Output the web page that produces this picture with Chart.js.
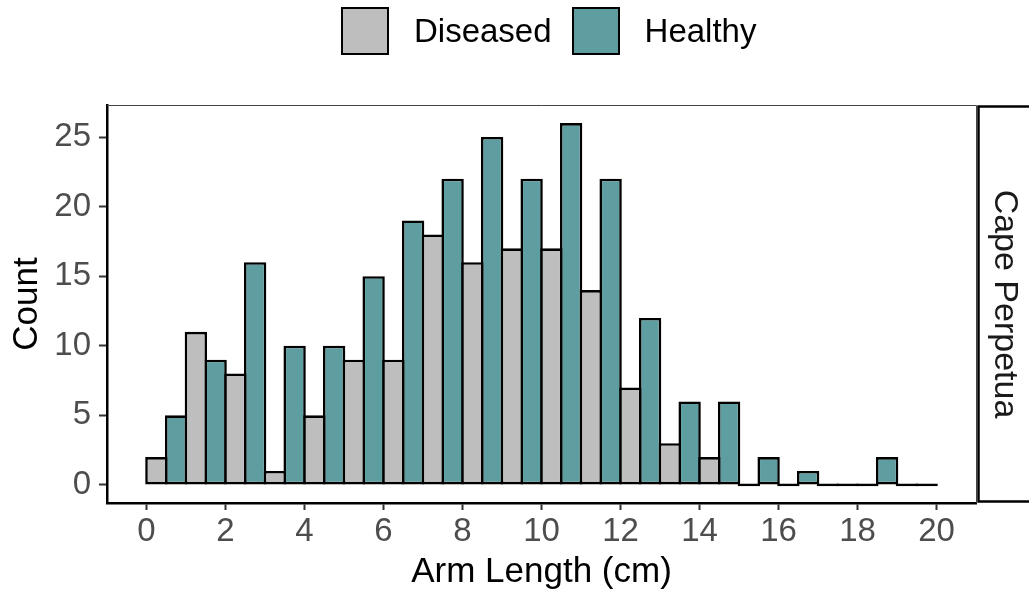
<!DOCTYPE html>
<html>
<head>
<meta charset="utf-8">
<title>Arm length histogram</title>
<script src="https://cdn.jsdelivr.net/npm/chart.js@4.4.1/dist/chart.umd.min.js"></script>
<style>
  html, body { margin: 0; padding: 0; background: #fff; }
  #wrap { position: relative; width: 1029px; height: 594px; overflow: hidden; }
  #legend {
    position: absolute; left: 341px; top: 7px;
    display: flex; align-items: center;
    font-family: 'Liberation Sans', Arial, Helvetica, sans-serif;
    font-size: 33px; color: #000;
  }
  .item { display: flex; align-items: center; margin-right: 20px; }
  .swatch { width: 48px; height: 48px; box-sizing: border-box; border: 2.5px solid #000; margin-right: 25px; }
</style>
</head>
<body>
<div id="wrap">
  <canvas id="hist" width="1029" height="594"></canvas>
  <div id="legend"></div>
</div>
<script>
// histogram bins (1 cm wide), counts per group
const binStarts = [0, 1, 2, 3, 4, 5, 6, 7, 8, 9, 10, 11, 12, 13, 14, 15, 16, 17, 18, 19];
const binWidth = 1;
const diseasedCounts = [2, 11, 8, 1, 5, 9, 9, 18, 16, 17, 17, 14, 7, 3, 2, 0, 0, 0, 0, 0];
const healthyCounts = [5, 9, 16, 10, 10, 15, 19, 22, 25, 22, 26, 22, 12, 6, 6, 2, 1, 0, 2, 0];
const xTicks = [0, 2, 4, 6, 8, 10, 12, 14, 16, 18, 20];
const yTicks = [0, 5, 10, 15, 20, 25];
const facetLabel = 'Cape Perpetua';

const FONT = "'Liberation Sans', Arial, Helvetica, sans-serif";
const OUTLINE = 2.6;

// dodge: diseased in the left half of each bin, healthy in the right half
function dodged(counts, slot) {
  return binStarts.map((s, i) => ({ x: s + binWidth * (slot * 0.5 + 0.25), y: counts[i] }));
}

// facet strip on the right side + thin top/right panel edge
const facetStrip = {
  id: 'facetStrip',
  afterDraw(chart) {
    const { ctx, chartArea } = chart;
    ctx.save();
    ctx.strokeStyle = '#444';
    ctx.lineWidth = 1;
    ctx.beginPath();
    ctx.moveTo(chartArea.left, chartArea.top + 0.5);
    ctx.lineTo(chartArea.right + 0.5, chartArea.top + 0.5);
    ctx.lineTo(chartArea.right + 0.5, chartArea.bottom);
    ctx.stroke();

    const x0 = chartArea.right + 2.5;
    ctx.fillStyle = '#fff';
    ctx.fillRect(x0, chartArea.top + 1.5, chart.width - x0 + 10, chartArea.bottom - chartArea.top - 3);
    ctx.strokeStyle = '#000';
    ctx.lineWidth = 2.5;
    ctx.strokeRect(x0, chartArea.top + 1.5, chart.width - x0 + 10, chartArea.bottom - chartArea.top - 3);

    ctx.translate(x0 + 26, (chartArea.top + chartArea.bottom) / 2);
    ctx.rotate(Math.PI / 2);
    ctx.font = '34px ' + FONT;
    ctx.fillStyle = '#1A1A1A';
    ctx.textAlign = 'center';
    ctx.textBaseline = 'middle';
    ctx.fillText(facetLabel, 0, 0);
    ctx.restore();
  }
};

const tickFont = { family: FONT, size: 33 };
const titleFont = { family: FONT, size: 35 };

const chart = new Chart(document.getElementById('hist'), {
  type: 'bar',
  data: {
    datasets: [
      { label: 'Diseased', data: dodged(diseasedCounts, 0), backgroundColor: '#BEBEBE' },
      { label: 'Healthy', data: dodged(healthyCounts, 1), backgroundColor: '#5F9EA0' }
    ]
  },
  options: {
    responsive: false,
    animation: false,
    devicePixelRatio: 1,
    layout: { padding: { top: 105, right: 53, left: 0, bottom: 0 } },
    datasets: {
      bar: {
        grouped: false,
        categoryPercentage: 1,
        // widen each half-bin bar by one outline so neighbouring borders overlap
        barPercentage: 1 + OUTLINE / 19.7,
        borderColor: '#000',
        borderWidth: OUTLINE,
        borderSkipped: false,
        minBarLength: OUTLINE
      }
    },
    scales: {
      x: {
        type: 'linear',
        min: -1,
        max: 21,
        offset: false,
        grid: { drawOnChartArea: false, drawTicks: true, tickLength: 7, tickWidth: 2, tickColor: '#333', offset: false },
        border: { display: true, color: '#000', width: 2.5 },
        ticks: { color: '#4D4D4D', font: tickFont, padding: 2, maxRotation: 0, autoSkip: false },
        afterBuildTicks: s => { s.ticks = xTicks.map(v => ({ value: v })); },
        afterFit: s => { s.height = 91; },
        title: { display: true, text: 'Arm Length (cm)', color: '#000', font: titleFont, padding: { top: 0, bottom: 1 } }
      },
      y: {
        type: 'linear',
        min: -1.3,
        max: 27.3,
        grid: { drawOnChartArea: false, drawTicks: true, tickLength: 8, tickWidth: 2, tickColor: '#333' },
        border: { display: true, color: '#000', width: 2.5 },
        ticks: { color: '#4D4D4D', font: tickFont, padding: 8 },
        afterBuildTicks: s => { s.ticks = yTicks.map(v => ({ value: v })); },
        afterFit: s => { s.width = 107; },
        title: { display: true, text: 'Count', color: '#000', font: titleFont, padding: { top: 6, bottom: 0 } }
      }
    },
    plugins: {
      legend: { display: false },
      tooltip: { enabled: false }
    }
  },
  plugins: [facetStrip]
});

// legend built from the datasets
const legendEl = document.getElementById('legend');
chart.data.datasets.forEach(ds => {
  const item = document.createElement('div');
  item.className = 'item';
  const sw = document.createElement('span');
  sw.className = 'swatch';
  sw.style.background = ds.backgroundColor;
  const txt = document.createElement('span');
  txt.textContent = ds.label;
  item.appendChild(sw);
  item.appendChild(txt);
  legendEl.appendChild(item);
});
</script>
</body>
</html>
